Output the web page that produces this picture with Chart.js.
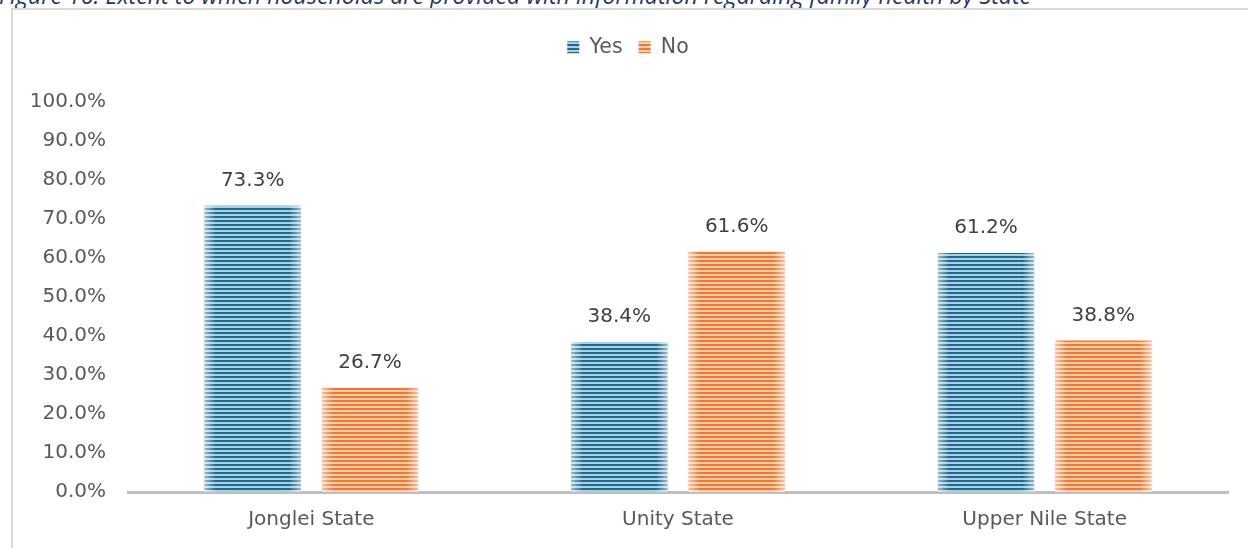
<!DOCTYPE html>
<html>
<head>
<meta charset="utf-8">
<script src="https://cdn.jsdelivr.net/npm/chart.js@4.4.1/dist/chart.umd.min.js"></script>
<style>
    html, body { margin: 0; padding: 0; background: #fff; overflow: hidden; }
    .caption {
        position: absolute; left: -1px; top: -21px; white-space: nowrap; line-height: 30px;
        font: italic 23.2px "Open Sans", sans-serif; color: #1f3864;
    }
    .frame {
        position: absolute; left: 11px; top: 8px; width: 1300px; height: 600px;
        border: 2px solid #d9d9d9; box-sizing: border-box;
    }
    .wrap { position: absolute; left: 0; top: 0; width: 1248px; height: 548px; }
</style>
</head>
<body>
<div class="caption">Figure 16: Extent to which households are provided with information regarding family health by State</div>
<div class="frame"></div>
<div class="wrap"><canvas id="chart" width="1248" height="548"></canvas></div>

<script>
// household info on family health, by state
const states = ['Jonglei State', 'Unity State', 'Upper Nile State'];
const yesValues = [73.3, 38.4, 61.2];
const noValues = [26.7, 61.6, 38.8];
const yTicks = [0, 10, 20, 30, 40, 50, 60, 70, 80, 90, 100];

const FONT = '"DejaVu Sans", sans-serif';
const TEXT = '#595959';

// horizontal stripe fill, 4px tile
function stripes(dark, light) {
    const c = document.createElement('canvas');
    c.width = 4; c.height = 4;
    const g = c.getContext('2d');
    g.fillStyle = light;
    g.fillRect(0, 0, 4, 4);
    g.fillStyle = dark;
    g.fillRect(0, 0, 4, 2);
    return g.createPattern(c, 'repeat');
}

const blueFill = stripes('#1f6a8f', '#a9d0e3');
const orangeFill = stripes('#ee7a32', '#f9cdac');

// soften the left/right edges of each bar and print its value above
const barDecor = {
    id: 'barDecor',
    afterDatasetsDraw(chart) {
        const ctx = chart.ctx;
        chart.data.datasets.forEach((ds, di) => {
            chart.getDatasetMeta(di).data.forEach((bar, i) => {
                const left = bar.x - bar.width / 2;
                const h = bar.base - bar.y;
                const grad = ctx.createLinearGradient(left, 0, left + bar.width, 0);
                grad.addColorStop(0, 'rgba(255,255,255,0.55)');
                grad.addColorStop(0.12, 'rgba(255,255,255,0)');
                grad.addColorStop(0.88, 'rgba(255,255,255,0)');
                grad.addColorStop(1, 'rgba(255,255,255,0.55)');
                ctx.save();
                ctx.fillStyle = grad;
                ctx.fillRect(left, bar.y, bar.width, h);
                ctx.fillStyle = '#404040';
                ctx.font = '20px ' + FONT;
                ctx.textAlign = 'center';
                ctx.textBaseline = 'middle';
                ctx.fillText(ds.data[i].toFixed(1) + '%', bar.x, bar.y - 25);
                ctx.restore();
            });
        });
    }
};

// extra room between the legend and the plot
const legendGap = {
    id: 'legendGap',
    beforeInit(chart) {
        const fit = chart.legend.fit;
        chart.legend.fit = function () {
            fit.call(this);
            this.height += 34;
        };
    }
};

new Chart(document.getElementById('chart'), {
    type: 'bar',
    data: {
        labels: states,
        datasets: [
            { label: 'Yes', data: yesValues, backgroundColor: blueFill, borderWidth: 0 },
            { label: 'No', data: noValues, backgroundColor: orangeFill, borderWidth: 0 }
        ]
    },
    options: {
        responsive: false,
        animation: false,
        devicePixelRatio: 1,
        layout: { padding: { left: 28, right: 20, top: 21, bottom: 0 } },
        datasets: {
            bar: { categoryPercentage: 0.64, barPercentage: 0.82 }
        },
        plugins: {
            tooltip: { enabled: false },
            legend: {
                position: 'top',
                labels: {
                    color: TEXT,
                    font: { family: FONT, size: 20.5 },
                    boxWidth: 12,
                    boxHeight: 12,
                    padding: 16,
                    generateLabels(chart) {
                        return chart.data.datasets.map((ds, i) => ({
                            text: ds.label,
                            fillStyle: ds.backgroundColor,
                            strokeStyle: 'rgba(0,0,0,0)',
                            lineWidth: 0,
                            fontColor: TEXT,
                            datasetIndex: i
                        }));
                    }
                }
            }
        },
        scales: {
            x: {
                z: 1,
                grid: { display: false, drawTicks: false },
                border: { display: true, color: '#bfbfbf', width: 3 },
                ticks: { color: TEXT, font: { family: FONT, size: 20 }, padding: 16 }
            },
            y: {
                min: 0,
                max: 100,
                afterFit(scale) { scale.width = 100; },
                afterBuildTicks(scale) { scale.ticks = yTicks.map(v => ({ value: v })); },
                grid: { display: false, drawTicks: false },
                border: { display: false },
                ticks: {
                    color: TEXT,
                    font: { family: FONT, size: 20 },
                    padding: 22,
                    callback: v => v.toFixed(1) + '%'
                }
            }
        }
    },
    plugins: [barDecor, legendGap]
});
</script>
</body>
</html>
